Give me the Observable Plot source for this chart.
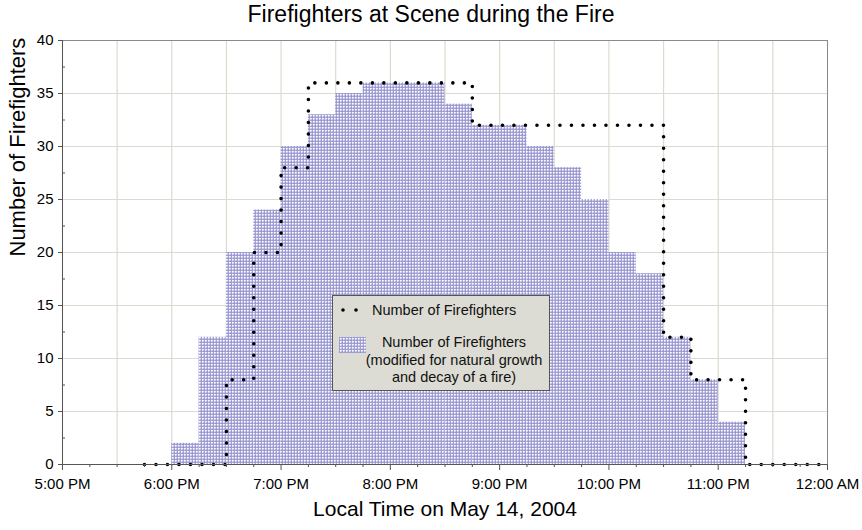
<!DOCTYPE html>
<html>
<head>
<meta charset="utf-8">
<script src="https://cdn.jsdelivr.net/npm/d3@7"></script>
<script src="https://cdn.jsdelivr.net/npm/@observablehq/plot@0.6"></script>
<style>
  body { margin: 0; background: #fff; font-family: "Liberation Sans", Arial, sans-serif; }
  #wrap { position: relative; width: 862px; height: 530px; overflow: hidden; }
  #title { width: 862px; height: 30px; line-height: 29px; font-size: 23px; text-align: center; color: #000; }
  #chart svg { display: block; }
  #legend { position: absolute; left: 332px; top: 295px; width: 218px; height: 96px;
            background: #dcdcd4; border: 1px solid #555; box-sizing: border-box; font-size: 14.5px; color: #111; }
  #legend .t1 { position: absolute; left: 39px; top: 5px; line-height: 18px; white-space: nowrap; }
  #legend .dots { position: absolute; left: 4px; top: 8px; }
  #legend .sw { position: absolute; left: 6px; top: 41px; }
  #legend .t2 { position: absolute; left: 30px; top: 38px; width: 182px; text-align: center; line-height: 17.5px; white-space: nowrap; }
</style>
</head>
<body>
<div id="wrap">
  <div id="title">Firefighters at Scene during the Fire</div>
  <div id="chart"></div>
  <div id="legend">
    <svg class="dots" width="30" height="12"><line x1="6" x2="24" y1="6" y2="6" stroke="#000" stroke-width="3.6" stroke-linecap="round" stroke-dasharray="0 13"/></svg>
    <span class="t1">Number of Firefighters</span>
    <svg class="sw" width="27" height="16">
      <defs>
        <pattern id="legHatch" patternUnits="userSpaceOnUse" width="3" height="3">
          <rect width="3" height="3" fill="#9896d0"/>
          <circle cx="1.8" cy="1.8" r="1.05" fill="#ffffff"/>
        </pattern>
      </defs>
      <rect x="0" y="0" width="27" height="16" fill="url(#legHatch)"/>
    </svg>
    <div class="t2">Number of Firefighters<br>(modified for natural growth<br>and decay of a fire)</div>
  </div>
</div>
<script>
// ---- data ----
const modStart = ["18:00","18:15","18:30","18:45","19:00","19:15","19:30","19:45","20:00","20:15","20:30",
                  "20:45","21:00","21:15","21:30","21:45","22:00","22:15","22:30","22:45","23:00"];
const modCount = [2,12,20,24,30,33,35,36,36,36,34,32,32,30,28,25,20,18,12,8,4];

const actualTime  = ["17:45","18:30","18:45","19:00","19:15","20:45","22:30","22:45","23:15","24:00"];
const actualCount = [0,8,20,28,36,32,12,8,0,0];

const hourTicks  = [17,18,19,20,21,22,23,24];
const hourLabels = ["5:00 PM","6:00 PM","7:00 PM","8:00 PM","9:00 PM","10:00 PM","11:00 PM","12:00 AM"];
const yTicks = [0,5,10,15,20,25,30,35,40];
const binHours = 0.25;

// ---- build ----
const hrs = s => { const [h, m] = s.split(":").map(Number); return h + m / 60; };
const bins = modStart.map((s, i) => ({ t0: hrs(s), t1: hrs(s) + binHours, n: modCount[i] }));
const actual = actualTime.map((s, i) => ({ t: hrs(s), n: actualCount[i] }));
const halfHours = d3.range(hourTicks[0], hourTicks[hourTicks.length - 1] + 0.001, 0.5);
const quarterTicks = d3.range(hourTicks[0], hourTicks[hourTicks.length - 1] + 0.001, 0.25).filter(v => v % 1 !== 0);
const minorY = d3.range(2.5, 40, 5);

const chart = Plot.plot({
  width: 862, height: 500,
  marginTop: 10, marginBottom: 66, marginLeft: 62, marginRight: 35,
  style: { fontFamily: "'Liberation Sans', Arial, sans-serif", fontSize: "15px", color: "#000", background: "transparent", overflow: "visible" },
  x: { domain: [17, 24] },
  y: { domain: [0, 40] },
  marks: [
    Plot.gridX(halfHours, { stroke: "#dcdbcf", strokeOpacity: 1, strokeWidth: 1.2 }),
    Plot.gridY(yTicks, { stroke: "#dcdbcf", strokeOpacity: 1, strokeWidth: 1.2 }),
    Plot.rectY(bins, { x1: "t0", x2: "t1", y: "n", fill: "url(#ffHatch)" }),
    Plot.line(actual, { x: "t", y: "n", curve: "step-after", stroke: "#000", strokeWidth: 3.6,
                        strokeDasharray: "0 11.5", strokeLinecap: "round" }),
    Plot.frame({ stroke: "#8a8a8a" }),
    Plot.ruleY([0], { stroke: "#555" }),
    Plot.ruleX([17], { stroke: "#555" }),
    Plot.axisX(hourTicks, { tickSize: 6, tickPadding: 8, tickFormat: d => hourLabels[hourTicks.indexOf(d)], label: null, stroke: "#555" }),
    Plot.axisX(quarterTicks, { tickSize: 3, tickFormat: () => "", label: null, stroke: "#555" }),
    Plot.axisY(yTicks, { tickSize: 4, tickPadding: 5, label: null, stroke: "#555" }),
    Plot.axisY(minorY, { tickSize: -3, tickFormat: () => "", label: null, stroke: "#555" }),
    Plot.text(["Local Time on May 14, 2004"], { text: d => d, frameAnchor: "bottom", dy: 51, fontSize: 21 }),
    Plot.text(["Number of Firefighters"], { text: d => d, frameAnchor: "left", rotate: -90, dx: -45, dy: 4, fontSize: 22 })
  ]
});

const defs = d3.select(chart).insert("defs", ":first-child");
const pat = defs.append("pattern").attr("id", "ffHatch").attr("patternUnits", "userSpaceOnUse").attr("width", 3).attr("height", 3);
pat.append("rect").attr("width", 3).attr("height", 3).attr("fill", "#9896d0");
pat.append("circle").attr("cx", 1.8).attr("cy", 1.8).attr("r", 1.05).attr("fill", "#ffffff");

document.getElementById("chart").appendChild(chart);
</script>
</body>
</html>
